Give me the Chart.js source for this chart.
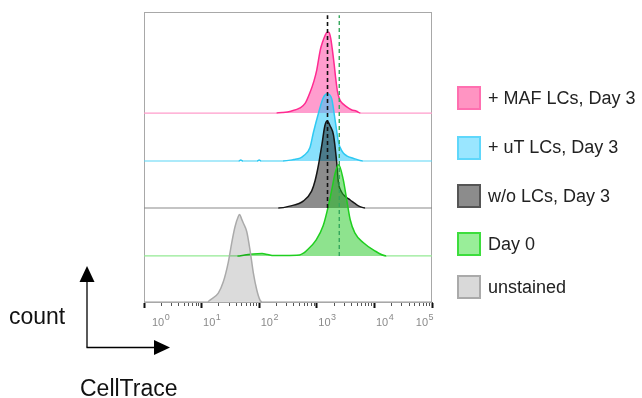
<!DOCTYPE html>
<html><head><meta charset="utf-8">
<script src="https://cdn.jsdelivr.net/npm/chart.js@4/dist/chart.umd.min.js"></script>
<style>
html,body{margin:0;padding:0;background:#fff;}
#wrap{position:relative;width:642px;height:398px;overflow:hidden;font-family:"Liberation Sans",Arial,sans-serif;}
canvas{position:absolute;left:0;top:0;}
svg{position:absolute;left:0;top:0;}
.lg{position:absolute;left:457px;height:24px;display:flex;align-items:center;white-space:nowrap;font-size:18px;color:#222;}
.lg .box{width:20px;height:20px;border:2px solid;margin-right:7px;flex:none;}
.lbl{position:absolute;font-size:23px;color:#111;white-space:nowrap;line-height:1;}
</style></head><body>
<div id="wrap">
<canvas id="c" width="642" height="398"></canvas>
<svg width="642" height="398">
  <line x1="87" y1="347.5" x2="87" y2="280" stroke="#000" stroke-width="1.3"/>
  <polygon points="87,266 79.5,282 94.5,282" fill="#000"/>
  <line x1="86.5" y1="347.5" x2="156" y2="347.5" stroke="#000" stroke-width="1.3"/>
  <polygon points="170,347.5 154,340 154,355" fill="#000"/>
</svg>
<div id="legend"></div>
<div class="lbl" style="left:9px;top:304.5px;">count</div>
<div class="lbl" style="left:80px;top:376.5px;">CellTrace</div>
</div>
<script>
// ---------------- data ----------------
const seriesNames = ['+ MAF LCs, Day 3', '+ uT LCs, Day 3', 'w/o LCs, Day 3', 'Day 0', 'unstained'];
const seriesOffsets = [402, 300, 200, 98, 0];   // vertical stagger of each histogram (count units)

// log10(CellTrace) bins and counts for each histogram
const mafLog   = [2.30, 2.40, 2.55, 2.71, 2.80, 2.88, 2.95, 3.00, 3.06, 3.10, 3.14, 3.18, 3.21, 3.24, 3.27, 3.30, 3.33, 3.36, 3.40, 3.46, 3.52, 3.60, 3.69, 3.76];
const mafCount = [0, 1, 4, 11, 21, 43, 68, 92, 134, 151, 164, 172, 172, 160, 135, 105, 72, 45, 28, 19, 13, 7, 4, 0];

const utLog   = [1.64, 1.68, 1.72, 1.96, 2.00, 2.04, 2.41, 2.60, 2.71, 2.77, 2.88, 2.94, 3.03, 3.11, 3.18, 3.26, 3.30, 3.345, 3.375, 3.40, 3.46, 3.52, 3.63, 3.80];
const utCount = [0, 2, 0, 0, 2, 0, 0, 3, 6, 11, 28, 60, 102, 134, 143, 132, 102, 64, 40, 30, 17, 11, 6, 0];

const woLog   = [2.33, 2.53, 2.77, 2.91, 2.97, 3.03, 3.09, 3.14, 3.18, 3.23, 3.29, 3.345, 3.375, 3.43, 3.50, 3.58, 3.68, 3.75, 3.84];
const woCount = [0, 4, 15, 36, 58, 92, 136, 175, 185, 175, 155, 98, 55, 34, 24, 17, 8, 3, 0];

const d0Log   = [1.62, 1.75, 1.90, 2.05, 2.15, 2.25, 2.45, 2.70, 2.77, 2.82, 2.99, 3.11, 3.20, 3.26, 3.32, 3.38, 3.46, 3.52, 3.58, 3.66, 3.81, 3.98, 4.21];
const d0Count = [0, 2, 4, 5, 3, 1, 1, 2, 6, 11, 34, 64, 106, 141, 177, 194, 162, 119, 77, 49, 28, 13, 0];

const unLog   = [1.10, 1.146, 1.29, 1.377, 1.464, 1.523, 1.58, 1.637, 1.66, 1.69, 1.724, 1.783, 1.84, 1.898, 1.957, 2.014, 2.05];
const unCount = [0, 4, 19, 43, 85, 126, 160, 182, 186, 178, 168, 150, 111, 62, 26, 4, 0];

// dashed reference lines: [CellTrace value, lower count, upper count]
const markerWo = [1535, 200, 610];
const markerD0 = [2455, 98, 610];

const tickLabels = ['10^0', '10^1', '10^2', '10^3', '10^4', '10^5'];
const xMin = 1, xMax = 1e5, yMax = 617;

// ---------------- styles ----------------
const styles = [
  {line:'#ff2a90', fill:'rgba(255,105,180,0.65)', base:'#ff9ccb', box:'#ff94c2', boxBorder:'#ff6fb0'},
  {line:'#2ec9f2', fill:'rgba(40,200,250,0.55)',  base:'#5ad6f6', box:'#9ae6ff', boxBorder:'#5fd7fb'},
  {line:'#151515', fill:'rgba(0,0,0,0.45)',       base:'#8a8a8a', box:'#8c8c8c', boxBorder:'#555555'},
  {line:'#1fcf1f', fill:'rgba(30,200,30,0.5)',    base:'#93ea93', box:'#99ee99', boxBorder:'#3ddd3d'},
  {line:'#aaaaaa', fill:'rgba(0,0,0,0.14)',       base:'#9a9a9a', box:'#d9d9d9', boxBorder:'#aaaaaa'}
];
const legendTops = [86, 135.5, 184, 232, 275];

const logs = [mafLog, utLog, woLog, d0Log, unLog];
const counts = [mafCount, utCount, woCount, d0Count, unCount];

function points(lg, ct, off) {
  const p = [{x: xMin, y: off}];
  lg.forEach((l, i) => p.push({x: Math.pow(10, l), y: off + ct[i]}));
  p.push({x: xMax, y: off});
  return p;
}

const datasets = seriesNames.map((name, i) => {
  const off = seriesOffsets[i];
  const st = styles[i];
  return {
    label: name,
    data: points(logs[i], counts[i], off),
    borderColor: st.line,
    backgroundColor: st.fill,
    borderWidth: 1.5,
    fill: {value: off},
    pointRadius: 0,
    cubicInterpolationMode: 'monotone',
    order: 5 - i + 1,
    segment: {
      borderColor: c => (c.p0.parsed.y === off && c.p1.parsed.y === off) ? st.base : st.line,
      borderWidth: c => (c.p0.parsed.y === off && c.p1.parsed.y === off) ? 1.2 : 1.5
    }
  };
});
datasets.push({
  label: 'marker w/o', data: [{x: markerWo[0], y: markerWo[1]}, {x: markerWo[0], y: markerWo[2]}],
  borderColor: '#111', borderWidth: 1.6, borderDash: [4, 3], pointRadius: 0, fill: false, order: 0
});
datasets.push({
  label: 'marker d0', data: [{x: markerD0[0], y: markerD0[1]}, {x: markerD0[0], y: markerD0[2]}],
  borderColor: '#35a85c', borderWidth: 1.4, borderDash: [4, 3], pointRadius: 0, fill: false, order: 0
});

const tickValues = [];
for (let e = 0; e < 5; e++) for (let d = 1; d < 10; d++) tickValues.push(d * Math.pow(10, e));
tickValues.push(xMax);
const isDecade = v => Math.abs(Math.log10(v) - Math.round(Math.log10(v))) < 1e-9;

const framePlugin = {
  id: 'frame',
  beforeDatasetsDraw(chart) {
    const {ctx, chartArea: a} = chart;
    ctx.save();
    ctx.strokeStyle = '#a8a8a8';
    ctx.lineWidth = 1;
    ctx.strokeRect(a.left + 0.5, a.top + 0.5, a.right - a.left - 1, a.bottom - a.top);
    ctx.restore();
  },
  afterDraw(chart) {
    const {ctx} = chart;
    const xs = chart.scales.x;
    ctx.save();
    ctx.fillStyle = '#8a8a8a';
    ctx.textBaseline = 'alphabetic';
    tickLabels.forEach((t, i) => {
      const [base, exp] = t.split('^');
      const v = Math.pow(10, Number(exp));
      const px = xs.getPixelForValue(v);
      ctx.font = '11px "Liberation Sans", Arial, sans-serif';
      const wb = ctx.measureText(base).width;
      ctx.font = '9px "Liberation Sans", Arial, sans-serif';
      const we = ctx.measureText(exp).width;
      let x0;
      if (i === 0) x0 = px + 8;
      else if (i === tickLabels.length - 1) x0 = px - wb - we + 1;
      else x0 = px + 1.5;
      ctx.font = '11px "Liberation Sans", Arial, sans-serif';
      ctx.fillText(base, x0, 326);
      ctx.font = '9px "Liberation Sans", Arial, sans-serif';
      ctx.fillText(exp, x0 + wb + 0.5, 320);
    });
    ctx.restore();
  }
};

new Chart(document.getElementById('c'), {
  type: 'line',
  data: {datasets},
  options: {
    responsive: false,
    animation: false,
    devicePixelRatio: 1,
    layout: {padding: {left: 144, right: 210, top: 12, bottom: 56}},
    plugins: {legend: {display: false}, tooltip: {enabled: false}},
    elements: {point: {radius: 0}},
    scales: {
      x: {
        type: 'logarithmic', min: xMin, max: xMax, position: 'bottom',
        afterBuildTicks: s => { s.ticks = tickValues.map(v => ({value: v, major: isDecade(v)})); },
        afterFit: s => { s.height = 40; s.paddingLeft = 0; s.paddingRight = 0; },
        ticks: {display: false, autoSkip: false},
        grid: {
          drawOnChartArea: false, drawTicks: true, tickLength: 6,
          tickWidth: c => (c.tick && isDecade(c.tick.value)) ? 2 : 1,
          tickColor: c => (c.tick && isDecade(c.tick.value)) ? '#111' : '#555',
          tickBorderDash: c => (c.tick && isDecade(c.tick.value)) ? [] : [3, 20]
        },
        border: {display: true, color: '#555', width: 1}
      },
      y: {type: 'linear', min: 0, max: yMax, display: false}
    }
  },
  plugins: [framePlugin]
});

// legend
const lg = document.getElementById('legend');
seriesNames.forEach((name, i) => {
  const d = document.createElement('div');
  d.className = 'lg';
  d.style.top = legendTops[i] + 'px';
  const b = document.createElement('div');
  b.className = 'box';
  b.style.background = styles[i].box;
  b.style.borderColor = styles[i].boxBorder;
  const s = document.createElement('span');
  s.textContent = name;
  d.appendChild(b); d.appendChild(s);
  lg.appendChild(d);
});
</script>
</body></html>
